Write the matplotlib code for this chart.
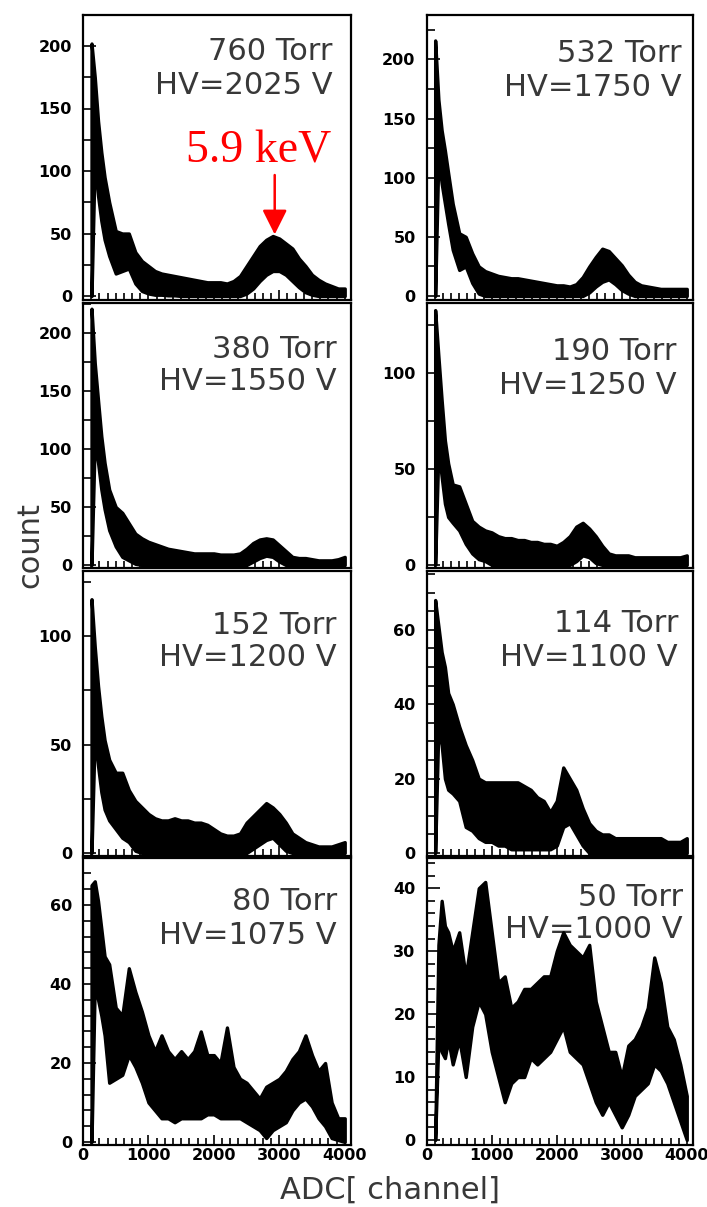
import matplotlib.pyplot as plt
from matplotlib.ticker import MultipleLocator

# ADC channel grid (denser near the low-channel spike)
channels = [130, 180, 230, 280, 330] + list(range(400, 4100, 100))

# upper / lower edge of the noisy spectrum band
p760_hi = [202, 175, 140, 115, 95, 75, 52, 50, 50, 35, 28, 24, 20, 18, 17, 16, 15, 14, 13, 12, 11,
           11, 11, 10, 12, 16, 24, 32, 40, 45, 48, 46, 42, 38, 30, 24, 17, 13, 10, 8, 6, 6]
p760_lo = [0, 110, 80, 60, 45, 32, 18, 20, 22, 10, 4, 2, 1, 1, 0.5, 0.5, 0, 0, 0, 0, 0,
           0, 0, 0, 0, 0, 2, 6, 12, 17, 20, 20, 17, 12, 7, 3, 1, 0, 0, 0, 0, 0]

p532_hi = [216, 166, 140, 123, 104, 78, 53, 50, 36, 25, 21, 19, 17, 16, 15, 15, 14, 13, 12, 11, 10,
           9, 9, 8, 10, 16, 25, 33, 40, 38, 32, 26, 18, 12, 9, 8, 7, 6, 6, 6, 6, 6]
p532_lo = [0, 118, 95, 78, 61, 39, 22, 25, 11, 2, 0, 0, 0, 0, 0, 0, 0, 0, 0, 0, 0,
           0, 0, 0, 0, 0, 3, 8, 12, 14, 10, 5, 2, 0, 0, 0, 0, 0, 0, 0, 0, 0]

p380_hi = [221, 174, 142, 111, 88, 65, 50, 45, 36, 27, 23, 20, 18, 16, 14, 13, 12, 11, 10, 10, 10,
           10, 9, 9, 9, 10, 14, 19, 22, 23, 22, 17, 12, 7, 6, 6, 5, 4, 4, 4, 5, 7]
p380_lo = [0, 108, 88, 65, 48, 30, 16, 7, 4, 1, 0, 0, 0, 0, 0, 0, 0, 0, 0, 0, 0,
           0, 0, 0, 0, 0, 0, 3, 6, 8, 7, 3, 0, 0, 0, 0, 0, 0, 0, 0, 0, 0]

p190_hi = [133, 109, 86, 65, 53, 42, 41, 32, 23, 20, 18, 17, 15, 14, 14, 13, 13, 12, 12, 11, 11,
           10, 12, 15, 20, 22, 19, 15, 10, 6, 5, 5, 5, 4, 4, 4, 4, 4, 4, 4, 4, 5]
p190_lo = [0, 60, 46, 32, 25, 22, 18, 11, 6, 3, 2, 0, 0, 0, 0, 0, 0, 0, 0, 0, 0,
           0, 0, 0, 2, 5, 4, 1, 0, 0, 0, 0, 0, 0, 0, 0, 0, 0, 0, 0, 0, 0]

p152_hi = [117, 95, 77, 63, 52, 43, 37, 37, 29, 24, 21, 18, 16, 15, 15, 16, 15, 15, 14, 14, 13,
           11, 9, 8, 8, 9, 14, 17, 20, 23, 21, 18, 14, 9, 7, 5, 4, 3, 3, 3, 4, 5]
p152_lo = [0, 55, 40, 28, 20, 15, 11, 7, 5, 1, 0, 0, 0, 0, 0, 0, 0, 0, 0, 0, 0,
           0, 0, 0, 0, 0, 0, 2, 4, 6, 7, 4, 1, 0, 0, 0, 0, 0, 0, 0, 0, 0]

p114_hi = [68, 61, 54, 50, 43, 40, 34, 29, 25, 20, 19, 19, 19, 19, 19, 19, 18, 17, 15, 14, 11,
           14, 23, 20, 17, 12, 8, 6, 5, 5, 4, 4, 4, 4, 4, 4, 4, 4, 3, 3, 3, 4]
p114_lo = [0, 34, 29, 20, 17, 16, 14, 7, 6, 4, 3, 3, 2, 2, 1, 1, 1, 1, 1, 1, 1,
           2, 7, 8, 5, 2, 0, 0, 0, 0, 0, 0, 0, 0, 0, 0, 0, 0, 0, 0, 0, 0]

p80_hi = [65, 66, 61, 54, 47, 45, 34, 32, 44, 38, 33, 27, 23, 27, 23, 21, 23, 21, 23, 28, 22,
          22, 20, 29, 19, 16, 15, 13, 11, 14, 15, 16, 18, 21, 23, 27, 22, 18, 20, 10, 6, 6]
p80_lo = [0, 40, 36, 32, 27, 15, 16, 17, 22, 19, 15, 10, 8, 6, 6, 5, 6, 6, 6, 6, 7,
          7, 6, 6, 6, 6, 5, 4, 3, 1, 3, 4, 5, 8, 10, 11, 9, 6, 4, 1, 0.5, 0]

p50_hi = [0, 31, 38, 34, 33, 30, 33, 26, 33, 40, 41, 33, 25, 26, 21, 22, 24, 24, 25, 26, 26,
          30, 33, 31, 30, 29, 31, 22, 18, 14, 14, 10, 15, 16, 18, 21, 29, 25, 18, 16, 12, 7]
p50_lo = [0, 16, 14, 13, 16, 12, 16, 10, 18, 22, 20, 14, 10, 6, 9, 10, 10, 13, 12, 13, 14,
          16, 18, 14, 13, 12, 9, 6, 4, 6, 4, 2, 4, 7, 8, 9, 12, 11, 9, 6, 3, 0]

pressures = ["760 Torr", "532 Torr", "380 Torr", "190 Torr",
             "152 Torr", "114 Torr", "80 Torr", "50 Torr"]
voltages = ["HV=2025 V", "HV=1750 V", "HV=1550 V", "HV=1250 V",
            "HV=1200 V", "HV=1100 V", "HV=1075 V", "HV=1000 V"]
his = [p760_hi, p532_hi, p380_hi, p190_hi, p152_hi, p114_hi, p80_hi, p50_hi]
los = [p760_lo, p532_lo, p380_lo, p190_lo, p152_lo, p114_lo, p80_lo, p50_lo]

# layout in pixels: (left, top, right, bottom), y-limits, major / minor y step
W, H = 707, 1207
boxes = [(83, 15, 351, 300), (426.7, 15, 693, 300),
         (83, 303, 351, 568), (426.7, 303, 693, 568),
         (83, 571, 351, 856), (426.7, 571, 693, 856),
         (83, 858, 351, 1145), (426.7, 858, 693, 1145)]
ylims = [(-3.2, 224.8), (-3.4, 237.5), (-2.6, 225.9), (-1.6, 136.7),
         (-1.4, 130), (-0.8, 75.8), (-0.76, 71.9), (-0.8, 44.8)]
ysteps = [(50, 25), (50, 25), (50, 25), (50, 25), (50, 25), (20, 5), (20, 4), (10, 2)]
# label anchor (right x, y line 1, y line 2) in pixels
labpos = [(333, 52, 85), (682, 54, 87), (337, 349, 382), (677, 352, 385),
          (337, 626, 658), (678, 623, 657), (337, 902, 935), (683, 898, 929)]

txt_col = "#383838"
fig = plt.figure(figsize=(W / 100, H / 100), dpi=100)

for i in range(8):
    l, t, r, b = boxes[i]
    ax = fig.add_axes([l / W, 1 - b / H, (r - l) / W, (b - t) / H])
    ax.fill_between(channels, los[i], his[i], color="black", edgecolor="black",
                    linewidth=2.4, zorder=2)
    ax.set_xlim(0, 4096)
    ax.set_ylim(*ylims[i])

    ax.xaxis.set_major_locator(MultipleLocator(1000))
    ax.xaxis.set_minor_locator(MultipleLocator(125))
    ax.yaxis.set_major_locator(MultipleLocator(ysteps[i][0]))
    ax.yaxis.set_minor_locator(MultipleLocator(ysteps[i][1]))
    ax.tick_params(which="both", direction="in", width=1.2, color="black",
                   top=False, right=False)
    ax.tick_params(axis="y", which="major", length=9, pad=8, labelsize=11.5)
    ax.tick_params(axis="y", which="minor", length=6)
    ax.tick_params(axis="x", which="major", length=7, pad=2, labelsize=11.5)
    ax.tick_params(axis="x", which="minor", length=5)
    for lab in ax.get_yticklabels() + ax.get_xticklabels():
        lab.set_fontweight("bold")
    if i < 6:
        ax.set_xticklabels([])
    for sp in ax.spines.values():
        sp.set_linewidth(1.6)

    xr, y1, y2 = labpos[i]
    ax.text(xr / W, 1 - y1 / H, pressures[i], transform=fig.transFigure, ha="right",
            va="center", fontsize=22, color=txt_col, zorder=1)
    ax.text(xr / W, 1 - y2 / H, voltages[i], transform=fig.transFigure, ha="right",
            va="center", fontsize=22, color=txt_col, zorder=1)

    if i == 0:
        ax.annotate("", xy=(2930, 47), xytext=(2930, 99),
                    arrowprops=dict(arrowstyle="-|>,head_length=0.6,head_width=0.3",
                                    color="red", lw=1.8, mutation_scale=25), zorder=5)
        ax.text(2680, 107, "5.9 keV", color="red", fontsize=33, ha="center",
                va="baseline", family="Liberation Serif", zorder=5)

fig.text(30 / W, 1 - 545 / H, "count", rotation=90, ha="center", va="center",
         fontsize=22, color=txt_col)
fig.text(390 / W, 1 - 1190 / H, "ADC[ channel]", ha="center", va="center",
         fontsize=22, color=txt_col)

plt.savefig("out.png", dpi=100)
plt.close()
